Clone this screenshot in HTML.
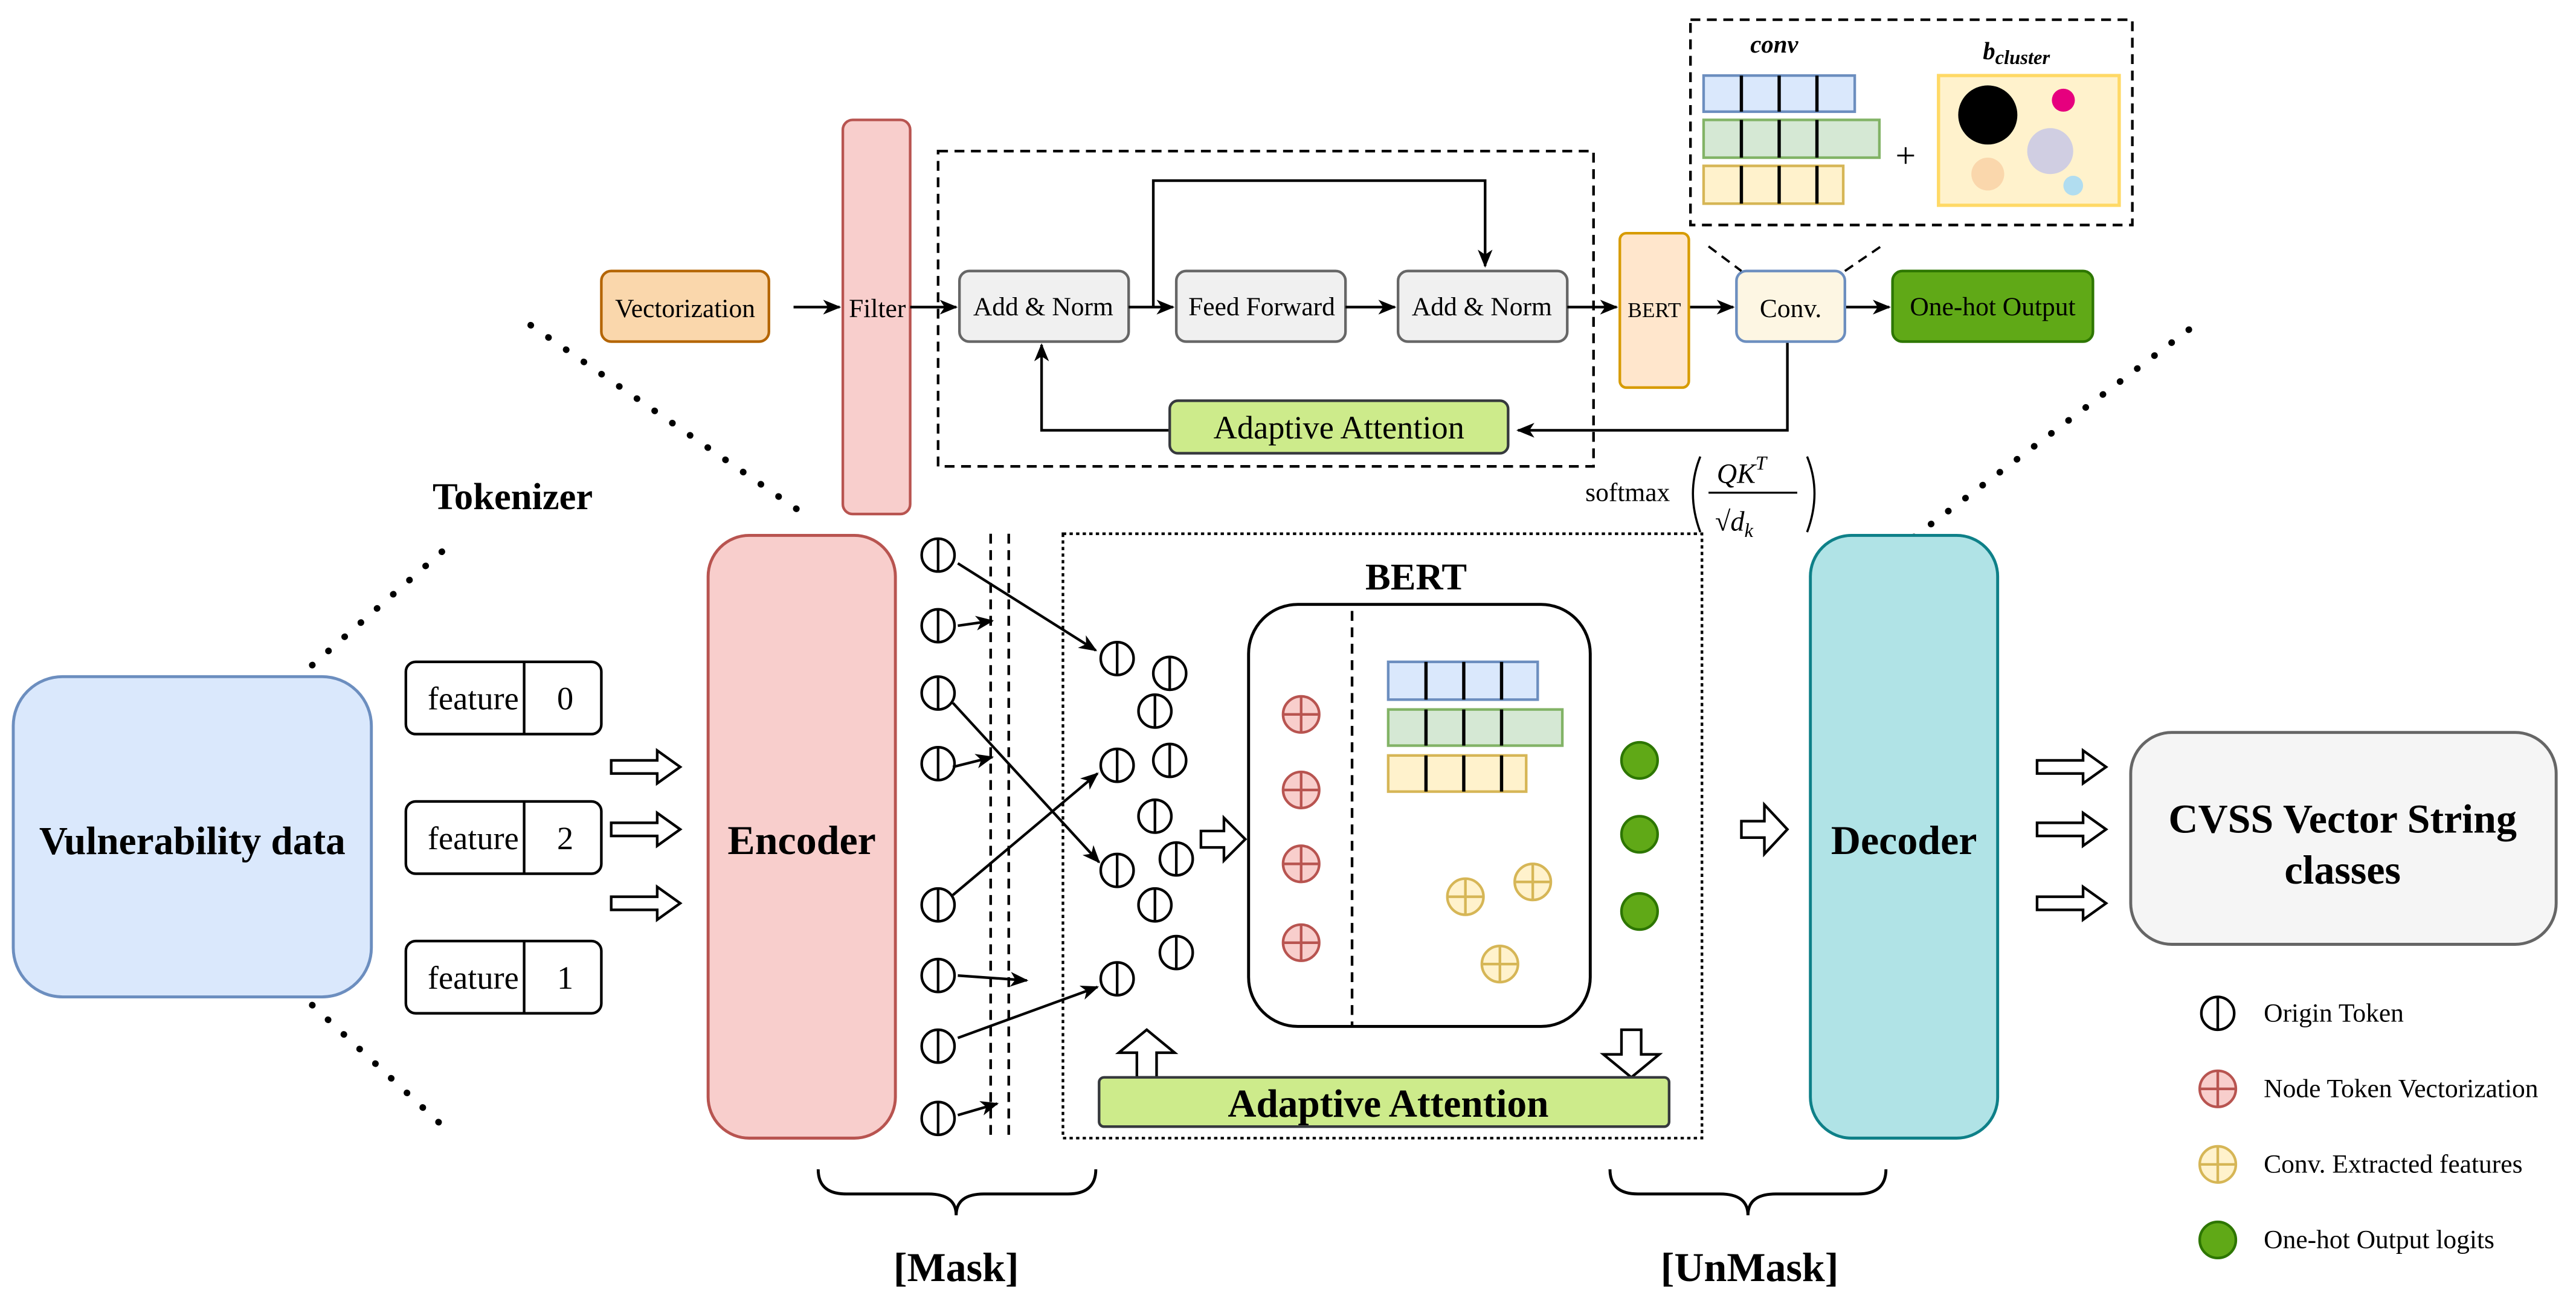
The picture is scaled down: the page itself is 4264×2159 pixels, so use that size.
<!DOCTYPE html>
<html><head><meta charset="utf-8"><style>
html,body{margin:0;padding:0;background:#fff;width:4264px;height:2159px;overflow:hidden}
svg{display:block}
text{font-family:"Liberation Serif",serif;fill:#000}
</style></head><body>
<svg width="4264" height="2159" viewBox="0 0 1568 794" xmlns="http://www.w3.org/2000/svg">
<defs>
<marker id="a" markerWidth="12" markerHeight="12" refX="10" refY="6" orient="auto" markerUnits="userSpaceOnUse"><path d="M0,1.5 L11,6 L0,10.5 L3,6 Z" fill="#000"/></marker>
<g id="tok"><circle r="10" fill="#fff" stroke="#000" stroke-width="1.6"/><line x1="0" y1="-10" x2="0" y2="10" stroke="#000" stroke-width="1.6"/></g>
<g id="red"><circle r="11" fill="#f8cecc" stroke="#b85450" stroke-width="1.6"/><line x1="0" y1="-11" x2="0" y2="11" stroke="#b85450" stroke-width="1.6"/><line x1="-11" y1="0" x2="11" y2="0" stroke="#b85450" stroke-width="1.6"/></g>
<g id="yel"><circle r="11" fill="#fff2cc" stroke="#d6b656" stroke-width="1.6"/><line x1="0" y1="-11" x2="0" y2="11" stroke="#d6b656" stroke-width="1.6"/><line x1="-11" y1="0" x2="11" y2="0" stroke="#d6b656" stroke-width="1.6"/></g>
<g id="grn"><circle r="11" fill="#60a917" stroke="#2d7600" stroke-width="1.6"/></g>
<path id="ha" d="M0,-4 L28,-4 L28,-10 L42,0 L28,10 L28,4 L0,4 Z" fill="#fff" stroke="#000" stroke-width="1.6"/>
</defs>

<g stroke="#000" stroke-width="4" stroke-dasharray="0.1,13" stroke-linecap="round">
<line x1="323" y1="198" x2="485" y2="310"/>
<line x1="190" y1="405" x2="270" y2="335"/>
<line x1="190" y1="612" x2="272" y2="688"/>
<line x1="1165" y1="327" x2="1340" y2="195"/>
</g>

<rect x="366" y="165" width="102" height="43" rx="6" fill="#fad7ac" stroke="#b46504" stroke-width="1.6"/>
<text x="417" y="193" font-size="16" text-anchor="middle">Vectorization</text>
<line x1="483" y1="187" x2="511" y2="187" stroke="#000" stroke-width="1.6" marker-end="url(#a)"/>
<rect x="513" y="73" width="41" height="240" rx="6" fill="#f8cecc" stroke="#b85450" stroke-width="1.6"/>
<text x="534" y="193" font-size="16" text-anchor="middle">Filter</text>
<line x1="554" y1="187" x2="582" y2="187" stroke="#000" stroke-width="1.6" marker-end="url(#a)"/>
<rect x="571" y="92" width="399" height="192" fill="none" stroke="#000" stroke-width="1.6" stroke-dasharray="6,4"/>
<g stroke="#666" stroke-width="1.6" fill="#f0f0f0">
<rect x="584" y="165" width="103" height="43" rx="6"/>
<rect x="716" y="165" width="103" height="43" rx="6"/>
<rect x="851" y="165" width="103" height="43" rx="6"/>
</g>
<g font-size="16" text-anchor="middle">
<text x="635" y="192">Add &amp; Norm</text>
<text x="768" y="192">Feed Forward</text>
<text x="902" y="192">Add &amp; Norm</text>
</g>
<g stroke="#000" stroke-width="1.6" fill="none">
<line x1="687" y1="187" x2="714" y2="187" marker-end="url(#a)"/>
<line x1="819" y1="187" x2="849" y2="187" marker-end="url(#a)"/>
<polyline points="702,187 702,110 904,110 904,162" marker-end="url(#a)"/>
<line x1="954" y1="187" x2="984" y2="187" marker-end="url(#a)"/>
<line x1="1028" y1="187" x2="1055" y2="187" marker-end="url(#a)"/>
<line x1="1123" y1="187" x2="1150" y2="187" marker-end="url(#a)"/>
<polyline points="1088,208 1088,262 924,262" marker-end="url(#a)"/>
<polyline points="712,262 634,262 634,210" marker-end="url(#a)"/>
</g>
<rect x="986" y="142" width="42" height="94" rx="4" fill="#ffe6cc" stroke="#d79b00" stroke-width="1.6"/>
<text x="1007" y="193" font-size="13" text-anchor="middle">BERT</text>
<rect x="1057" y="165" width="66" height="43" rx="6" fill="#fdf6e3" stroke="#6c8ebf" stroke-width="1.6"/>
<text x="1090" y="193" font-size="16" text-anchor="middle">Conv.</text>
<rect x="1152" y="165" width="122" height="43" rx="6" fill="#60a917" stroke="#2d7600" stroke-width="1.6"/>
<text x="1213" y="192" font-size="16" text-anchor="middle">One-hot Output</text>
<rect x="712" y="244" width="206" height="32" rx="5" fill="#cdeb8b" stroke="#36393d" stroke-width="1.6"/>
<text x="815" y="267" font-size="20" text-anchor="middle">Adaptive Attention</text>

<rect x="1029" y="12" width="269" height="125" fill="none" stroke="#000" stroke-width="1.6" stroke-dasharray="6,4"/>
<g stroke="#000" stroke-width="1.4" stroke-dasharray="6,4">
<line x1="1040" y1="150" x2="1060" y2="165"/><line x1="1123" y1="165" x2="1145" y2="150"/>
</g>
<text x="1080" y="32" font-size="15" font-style="italic" font-weight="bold" text-anchor="middle">conv</text>
<text x="1207" y="36" font-size="15" font-style="italic" font-weight="bold">b<tspan font-size="12" dy="3">cluster</tspan></text>
<rect x="1037" y="46" width="92" height="22" fill="#dae8fc" stroke="#6c8ebf" stroke-width="1.6"/>
<rect x="1037" y="73" width="107" height="23" fill="#d5e8d4" stroke="#82b366" stroke-width="1.6"/>
<rect x="1037" y="101" width="85" height="23" fill="#fff2cc" stroke="#d6b656" stroke-width="1.6"/>
<g stroke="#000" stroke-width="2">
<line x1="1060" y1="46" x2="1060" y2="68"/><line x1="1083" y1="46" x2="1083" y2="68"/><line x1="1106" y1="46" x2="1106" y2="68"/>
<line x1="1060" y1="73" x2="1060" y2="96"/><line x1="1083" y1="73" x2="1083" y2="96"/><line x1="1106" y1="73" x2="1106" y2="96"/>
<line x1="1060" y1="101" x2="1060" y2="124"/><line x1="1083" y1="101" x2="1083" y2="124"/><line x1="1106" y1="101" x2="1106" y2="124"/>
</g>
<text x="1160" y="102" font-size="22" text-anchor="middle">+</text>
<rect x="1180" y="46" width="110" height="79" fill="#fff2cc" stroke="#ffd966" stroke-width="2"/>
<circle cx="1210" cy="70" r="18" fill="#000"/>
<circle cx="1256" cy="61" r="7" fill="#e6007e"/>
<circle cx="1248" cy="92" r="14" fill="#d0cee2"/>
<circle cx="1210" cy="106" r="10" fill="#fad7ac"/>
<circle cx="1262" cy="113" r="6" fill="#b1ddf0"/>

<text x="965" y="305" font-size="16">softmax</text>
<path d="M1035,278 Q1026,300 1035,324" fill="none" stroke="#000" stroke-width="1.3"/>
<path d="M1100,278 Q1109,300 1100,324" fill="none" stroke="#000" stroke-width="1.3"/>
<text x="1045" y="294" font-size="17" font-style="italic">QK<tspan font-size="12" dy="-8">T</tspan></text>
<line x1="1040" y1="300" x2="1094" y2="300" stroke="#000" stroke-width="1.2"/>
<text x="1044" y="323" font-size="17">√<tspan font-style="italic">d</tspan><tspan font-size="12" dy="4" font-style="italic">k</tspan></text>

<text x="312" y="310" font-size="23" font-weight="bold" text-anchor="middle">Tokenizer</text>
<rect x="8" y="412" width="218" height="195" rx="30" fill="#dae8fc" stroke="#6c8ebf" stroke-width="1.8"/>
<text x="117" y="520" font-size="24" font-weight="bold" text-anchor="middle">Vulnerability data</text>
<g stroke="#000" stroke-width="1.6" fill="#fff">
<rect x="247" y="403" width="119" height="44" rx="6"/>
<rect x="247" y="488" width="119" height="44" rx="6"/>
<rect x="247" y="573" width="119" height="44" rx="6"/>
<line x1="319" y1="403" x2="319" y2="447"/><line x1="319" y1="488" x2="319" y2="532"/><line x1="319" y1="573" x2="319" y2="617"/>
</g>
<g font-size="20" text-anchor="middle">
<text x="288" y="432">feature</text><text x="344" y="432">0</text>
<text x="288" y="517">feature</text><text x="344" y="517">2</text>
<text x="288" y="602">feature</text><text x="344" y="602">1</text>
</g>
<use href="#ha" x="372" y="467"/><use href="#ha" x="372" y="505"/><use href="#ha" x="372" y="550"/>
<rect x="431" y="326" width="114" height="367" rx="25" fill="#f8cecc" stroke="#b85450" stroke-width="1.8"/>
<text x="488" y="520" font-size="25" font-weight="bold" text-anchor="middle">Encoder</text>

<use href="#tok" x="571" y="338"/><use href="#tok" x="571" y="381"/><use href="#tok" x="571" y="422"/><use href="#tok" x="571" y="465"/>
<use href="#tok" x="571" y="551"/><use href="#tok" x="571" y="594"/><use href="#tok" x="571" y="637"/><use href="#tok" x="571" y="681"/>
<g stroke="#000" stroke-width="1.6" stroke-dasharray="6,4">
<line x1="603" y1="325" x2="603" y2="692"/><line x1="614" y1="325" x2="614" y2="692"/>
</g>
<rect x="647" y="325" width="389" height="368" fill="none" stroke="#000" stroke-width="1.6" stroke-dasharray="2,2"/>
<use href="#tok" x="680" y="401"/><use href="#tok" x="712" y="410"/><use href="#tok" x="703" y="433"/><use href="#tok" x="680" y="466"/>
<use href="#tok" x="712" y="463"/><use href="#tok" x="703" y="497"/><use href="#tok" x="680" y="530"/><use href="#tok" x="716" y="523"/>
<use href="#tok" x="703" y="551"/><use href="#tok" x="716" y="580"/><use href="#tok" x="680" y="596"/>
<g stroke="#000" stroke-width="1.6">
<line x1="583" y1="343" x2="667" y2="396" marker-end="url(#a)"/>
<line x1="583" y1="381" x2="604" y2="378" marker-end="url(#a)"/>
<line x1="580" y1="428" x2="669" y2="525" marker-end="url(#a)"/>
<line x1="580" y1="467" x2="604" y2="461" marker-end="url(#a)"/>
<line x1="580" y1="545" x2="668" y2="471" marker-end="url(#a)"/>
<line x1="583" y1="594" x2="625" y2="597" marker-end="url(#a)"/>
<line x1="583" y1="632" x2="668" y2="601" marker-end="url(#a)"/>
<line x1="583" y1="679" x2="607" y2="672" marker-end="url(#a)"/>
</g>
<path d="M731,506 L745,506 L745,498 L758,511 L745,524 L745,516 L731,516 Z" fill="#fff" stroke="#000" stroke-width="1.6"/>

<text x="862" y="359" font-size="23" font-weight="bold" text-anchor="middle">BERT</text>
<rect x="760" y="368" width="208" height="257" rx="30" fill="#fff" stroke="#000" stroke-width="1.8"/>
<line x1="823" y1="372" x2="823" y2="625" stroke="#000" stroke-width="1.6" stroke-dasharray="6,4"/>
<use href="#red" x="792" y="435"/><use href="#red" x="792" y="481"/><use href="#red" x="792" y="526"/><use href="#red" x="792" y="574"/>
<rect x="845" y="403" width="91" height="23" fill="#dae8fc" stroke="#6c8ebf" stroke-width="1.6"/>
<rect x="845" y="432" width="106" height="22" fill="#d5e8d4" stroke="#82b366" stroke-width="1.6"/>
<rect x="845" y="460" width="84" height="22" fill="#fff2cc" stroke="#d6b656" stroke-width="1.6"/>
<g stroke="#000" stroke-width="2">
<line x1="868" y1="403" x2="868" y2="426"/><line x1="891" y1="403" x2="891" y2="426"/><line x1="914" y1="403" x2="914" y2="426"/>
<line x1="868" y1="432" x2="868" y2="454"/><line x1="891" y1="432" x2="891" y2="454"/><line x1="914" y1="432" x2="914" y2="454"/>
<line x1="868" y1="460" x2="868" y2="482"/><line x1="891" y1="460" x2="891" y2="482"/><line x1="914" y1="460" x2="914" y2="482"/>
</g>
<use href="#yel" x="892" y="546"/><use href="#yel" x="933" y="537"/><use href="#yel" x="913" y="587"/>
<use href="#grn" x="998" y="463"/><use href="#grn" x="998" y="508"/><use href="#grn" x="998" y="555"/>
<path d="M692,656 L692,641 L681,641 L698,627 L715,641 L704,641 L704,656 Z" fill="#fff" stroke="#000" stroke-width="1.6"/>
<path d="M987,627 L987,642 L976,642 L993,656 L1010,642 L999,642 L999,627 Z" fill="#fff" stroke="#000" stroke-width="1.6"/>
<rect x="669" y="656" width="347" height="30" rx="3" fill="#cdeb8b" stroke="#36393d" stroke-width="1.6"/>
<text x="845" y="680" font-size="24" font-weight="bold" text-anchor="middle">Adaptive Attention</text>

<path d="M1060,500 L1074,500 L1074,490 L1088,505 L1074,520 L1074,510 L1060,510 Z" fill="#fff" stroke="#000" stroke-width="1.6"/>
<rect x="1102" y="326" width="114" height="367" rx="25" fill="#b0e3e6" stroke="#0e8088" stroke-width="1.8"/>
<text x="1159" y="520" font-size="25" font-weight="bold" text-anchor="middle">Decoder</text>
<use href="#ha" x="1240" y="467"/><use href="#ha" x="1240" y="505"/><use href="#ha" x="1240" y="550"/>
<rect x="1297" y="446" width="259" height="129" rx="25" fill="#f5f5f5" stroke="#666" stroke-width="1.8"/>
<text x="1426" y="507" font-size="25" font-weight="bold" text-anchor="middle">CVSS Vector String</text>
<text x="1426" y="538" font-size="25" font-weight="bold" text-anchor="middle">classes</text>

<path d="M498,712 Q498,727 515,727 L565,727 Q582,727 582,740 Q582,727 599,727 L650,727 Q667,727 667,712" fill="none" stroke="#000" stroke-width="1.8"/>
<path d="M980,712 Q980,727 997,727 L1047,727 Q1064,727 1064,740 Q1064,727 1081,727 L1131,727 Q1148,727 1148,712" fill="none" stroke="#000" stroke-width="1.8"/>
<text x="582" y="780" font-size="25" font-weight="bold" text-anchor="middle">[Mask]</text>
<text x="1065" y="780" font-size="25" font-weight="bold" text-anchor="middle">[UnMask]</text>

<use href="#tok" x="1350" y="617"/><use href="#red" x="1350" y="663"/><use href="#yel" x="1350" y="709"/><use href="#grn" x="1350" y="755"/>
<g font-size="16">
<text x="1378" y="622">Origin Token</text>
<text x="1378" y="668">Node Token Vectorization</text>
<text x="1378" y="714">Conv. Extracted features</text>
<text x="1378" y="760">One-hot Output logits</text>
</g>
</svg>
</body></html>
